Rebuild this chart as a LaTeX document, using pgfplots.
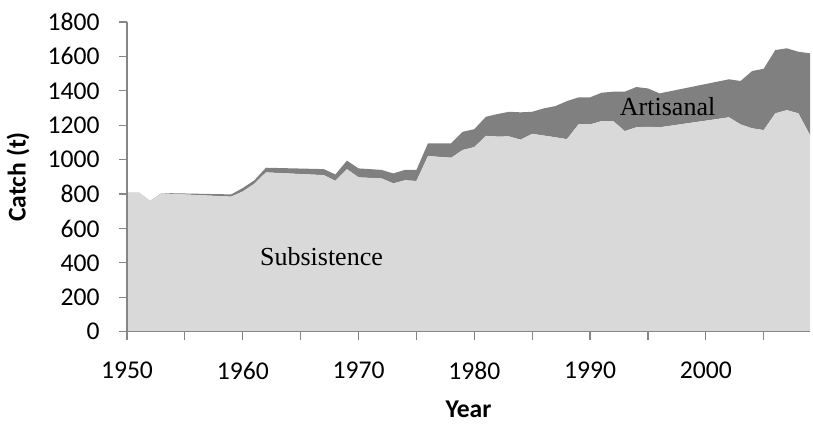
\documentclass[border=0pt]{standalone}
\usepackage{pgfplots}
\pgfplotsset{compat=1.18}
\usepackage{pgfplotstable}
\usepackage{fontspec}
\setmainfont{Carlito}
\newfontfamily\serifA{Liberation Serif}
\definecolor{subs}{HTML}{D9D9D9}
\definecolor{arti}{HTML}{808080}
\definecolor{axgray}{HTML}{868686}

\pgfplotstableread{
year sub art
1950 810 0
1951 810 0
1952 759 1
1953 804 2
1959 785 13
1960 815 20
1961 860 20
1962 926 27
1967 910 35
1968 877 37
1969 945 49
1970 897 52
1971 894 51
1972 891 49
1973 862 58
1974 880 60
1975 876 64
1976 1021 74
1977 1016 79
1978 1011 84
1979 1056 106
1980 1073 104
1981 1138 111
1982 1134 131
1983 1135 143
1984 1116 159
1985 1150 128
1986 1140 158
1987 1130 181
1988 1119 221
1989 1205 157
1990 1205 157
1991 1224 165
1992 1224 171
1993 1166 229
1994 1188 234
1995 1191 223
1996 1188 197
2002 1246 221
2003 1205 252
2004 1182 333
2005 1172 356
2006 1269 368
2007 1288 359
2008 1269 358
2009 1143 475
}\catch

\begin{document}
\fontsize{12.8}{15}\selectfont
\begin{tikzpicture}
\useasboundingbox (-63.5pt,-48.65pt) rectangle (343pt,165.85pt);
\begin{axis}[
  at={(0,0)}, anchor=south west, scale only axis,
  width=341.5pt, height=154.85pt,
  xmin=1950, xmax=2009, ymin=0, ymax=1800,
  stack plots=y,
  axis on top,
  axis x line*=bottom, axis y line*=left,
  axis line style={axgray, line width=0.6pt},
  tick style={axgray, line width=0.6pt},
  tick align=outside,
  major tick length=3.9pt, minor tick length=3.9pt,
  xtick={1950,1960,...,2000},
  minor xtick={1955,1965,...,2005},
  ytick={0,200,...,1800},
  /pgf/number format/1000 sep={},
  /pgf/number format/assume math mode=true,
  xticklabel style={anchor=north, inner sep=0pt, yshift=-11pt},
  yticklabel style={anchor=east, inner sep=0pt, xshift=-9.6pt},
  xlabel={\textbf{Year}}, ylabel={\textbf{Catch (t)}},
  xlabel style={at={([yshift=-38.65pt]axis description cs:0.5,0)}, anchor=center},
  ylabel style={at={([xshift=-54.5pt]axis description cs:0,0.5)}, anchor=center, rotate=0},
]
\addplot[fill=subs, draw=none] table[x=year,y=sub]{\catch} \closedcycle;
\addplot[fill=arti, draw=none] table[x=year,y=art]{\catch} \closedcycle;
\coordinate (subsl) at (axis cs:1966.8,434);
\coordinate (artl) at (axis cs:1996.7,1311);
\end{axis}
\node[font=\serifA\fontsize{13}{15}\selectfont, text=black] at (subsl) {Subsistence};
\node[font=\serifA\fontsize{13}{15}\selectfont, text=black] at (artl) {Artisanal};
\end{tikzpicture}
\end{document}
